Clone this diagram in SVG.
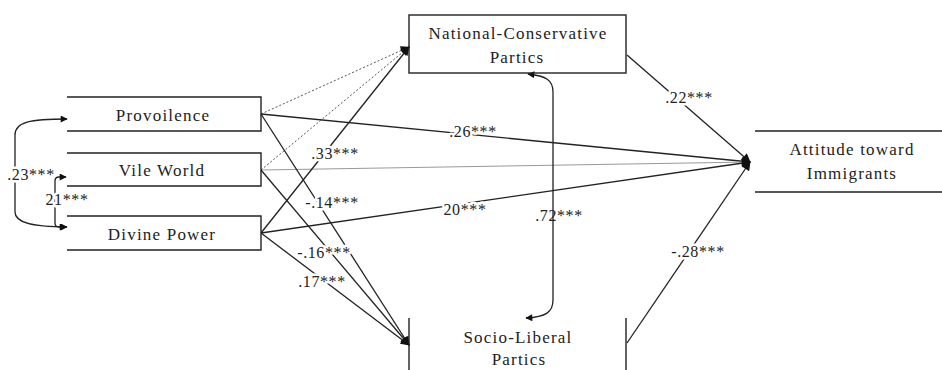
<svg xmlns="http://www.w3.org/2000/svg" width="942" height="370" viewBox="0 0 942 370">
<style>
.box{fill:none;stroke:#222;stroke-width:1.4}
.nt{font-size:17px;letter-spacing:1.2px;fill:#222;text-anchor:middle}
.lb{font-size:16px;letter-spacing:0.6px;fill:#222;text-anchor:middle;stroke:#fff;stroke-width:5;paint-order:stroke;stroke-linejoin:round}
.lbn{font-size:16px;letter-spacing:0.6px;fill:#222;text-anchor:middle}
.ln{fill:none;stroke:#222;stroke-width:1.3}
.dot{fill:none;stroke:#555;stroke-width:1;stroke-dasharray:2 2}
.gr{fill:none;stroke:#999;stroke-width:1}
</style>
<defs>
<marker id="ah" viewBox="0 0 10 10" refX="9" refY="5" markerWidth="10" markerHeight="9" markerUnits="userSpaceOnUse" orient="auto-start-reverse">
<path d="M0,0 L10,5 L0,10 z" fill="#111"/>
</marker>
<marker id="ahs" viewBox="0 0 10 10" refX="9" refY="5" markerWidth="8" markerHeight="7" markerUnits="userSpaceOnUse" orient="auto-start-reverse">
<path d="M0,0 L10,5 L0,10 z" fill="#111"/>
</marker>
</defs>
<g font-family="Liberation Serif, DejaVu Serif, Times New Roman, serif">
<g id="connectors">
<path class="ln" d="M261,114 L750,162" marker-end="url(#ah)"/>
<path class="gr" d="M261,170 L750,162" marker-end="url(#ah)"/>
<path class="ln" d="M261,233 L750,162" marker-end="url(#ah)"/>
<path class="dot" d="M261,114 L409,47" marker-end="url(#ah)"/>
<path class="dot" d="M261,170 L409,47" marker-end="url(#ah)"/>
<path class="ln" d="M261,233 L409,47" marker-end="url(#ah)"/>
<path class="ln" d="M261,114 L409,345" marker-end="url(#ah)"/>
<path class="ln" d="M261,170 L409,345" marker-end="url(#ah)"/>
<path class="ln" d="M261,233 L409,345" marker-end="url(#ah)"/>
<path class="ln" d="M627,55 L750,162" marker-end="url(#ah)"/>
<path class="ln" d="M627,343 L750,162" marker-end="url(#ah)"/>
<path class="ln" d="M528,74 C546,76 553,80 553,92 L553,300 C553,312 546,317 526,318" marker-start="url(#ahs)" marker-end="url(#ahs)"/>
<path class="ln" d="M67,119 C30,119 15,122 15,135 L15,212 C15,222 30,227 67,227" marker-start="url(#ahs)" marker-end="url(#ahs)"/>
<path class="ln" d="M66,177 L59,177 Q55,177 55,181 L55,223 Q55,227 59,227 L66,227" marker-start="url(#ahs)" marker-end="url(#ahs)"/>
<text class="lb" x="473" y="137">.26***</text>
<text class="lb" x="465" y="215">20***</text>
<text class="lb" x="335" y="159">.33***</text>
<text class="lb" x="332" y="208">-.14***</text>
<text class="lb" x="324" y="258">-.16***</text>
<text class="lb" x="322" y="287">.17***</text>
<text class="lbn" x="559" y="221">.72***</text>
<text class="lb" x="689" y="103">.22***</text>
<text class="lb" x="698" y="257">-.28***</text>
<text class="lb" x="31" y="180">.23***</text>
<text class="lb" x="67" y="205">21***</text>
</g>
<g id="provoilence">
<path class="box" d="M67,97 L261,97 L261,131 L67,131"/>
<text class="nt" x="163" y="121">Provoilence</text>
</g>
<g id="vile-world">
<path class="box" d="M67,153 L261,153 L261,186 L67,186"/>
<text class="nt" x="162" y="176">Vile World</text>
</g>
<g id="divine-power">
<path class="box" d="M67,216 L261,216 L261,250 L67,250"/>
<text class="nt" x="162" y="240">Divine Power</text>
</g>
<g id="national-conservative">
<rect class="box" x="409" y="15" width="217" height="58"/>
<text class="nt" x="518" y="39">National-Conservative</text>
<text class="nt" x="517" y="63">Partics</text>
</g>
<g id="socio-liberal">
<path class="box" d="M409,318 L409,370 M626,318 L626,370"/>
<text class="nt" x="518" y="343">Socio-Liberal</text>
<text class="nt" x="519" y="365">Partics</text>
</g>
<g id="attitude">
<path class="box" d="M755,131 L942,131 M755,192 L942,192"/>
<text class="nt" x="852" y="155">Attitude toward</text>
<text class="nt" x="852" y="179">Immigrants</text>
</g>
</g>
</svg>
